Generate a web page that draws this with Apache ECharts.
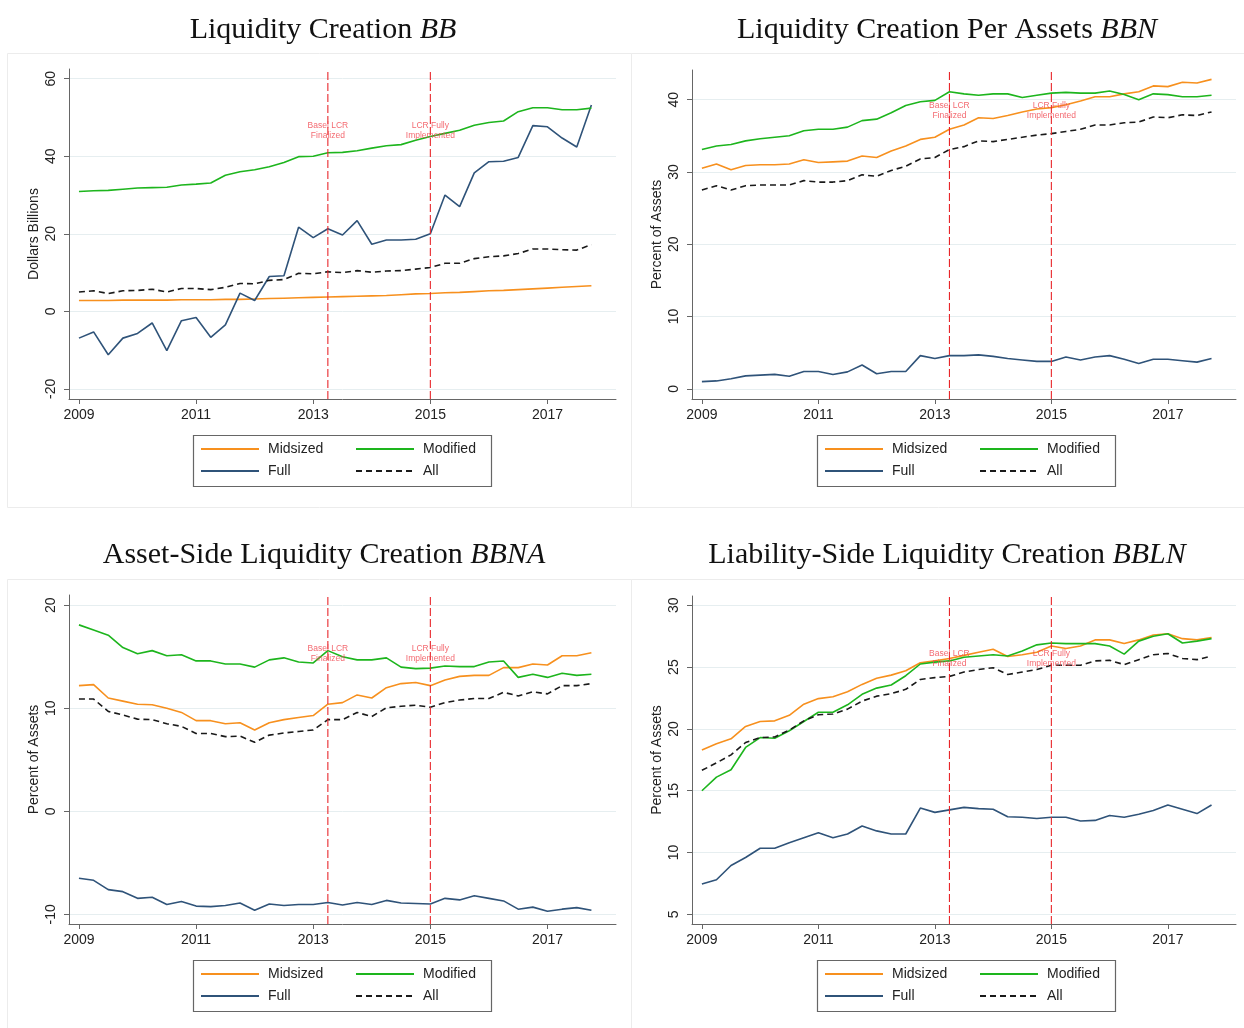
<!DOCTYPE html>
<html>
<head>
<meta charset="utf-8">
<script src="https://cdn.jsdelivr.net/npm/echarts@6/dist/echarts.min.js"></script>
<style>html,body{margin:0;padding:0;background:#fff}#c{width:1244px;height:1028px}</style>
</head>
<body>
<div id="c"></div>
<script>
// ---- data (quarterly, 2009Q1..2017Q4) ----
var quarters = [2009,2009.25,2009.5,2009.75,2010,2010.25,2010.5,2010.75,2011,2011.25,2011.5,2011.75,2012,2012.25,2012.5,2012.75,2013,2013.25,2013.5,2013.75,2014,2014.25,2014.5,2014.75,2015,2015.25,2015.5,2015.75,2016,2016.25,2016.5,2016.75,2017,2017.25,2017.5,2017.75];
var seriesNames = ['Midsized','Full','Modified','All'];
var xTicks = [2009,2011,2013,2015,2017];
var eventDates = [2013.25, 2015];
var eventLabels = ['Basel LCR\nFinalized', 'LCR Fully\nImplemented'];

// Panel 1: BB (Dollars Billions)
var bbMidsized = [2.8,2.8,2.8,2.9,2.9,2.9,2.9,3.0,3.0,3.0,3.1,3.1,3.2,3.3,3.4,3.5,3.6,3.7,3.8,3.9,4.0,4.1,4.3,4.5,4.6,4.8,4.9,5.1,5.3,5.4,5.6,5.8,6.0,6.2,6.4,6.6];
var bbModified = [30.9,31.1,31.2,31.5,31.8,31.9,32.0,32.6,32.8,33.1,35.1,36.0,36.5,37.3,38.4,39.9,40.0,40.9,41.0,41.4,42.1,42.7,43.0,44.1,45.1,45.9,46.7,48.0,48.7,49.1,51.5,52.5,52.5,52.0,52.0,52.4];
var bbFull = [-6.9,-5.3,-11.2,-6.9,-5.7,-3.0,-10.1,-2.4,-1.6,-6.7,-3.5,4.7,2.8,9.0,9.2,21.7,19.0,21.3,19.7,23.4,17.3,18.4,18.4,18.6,20.0,30.0,27.0,35.7,38.6,38.7,39.7,47.9,47.6,44.7,42.4,53.2];
var bbAll = [5.0,5.3,4.6,5.3,5.4,5.7,5.0,5.9,5.9,5.6,6.2,7.2,7.1,8.0,8.2,9.8,9.7,10.2,10.0,10.5,10.1,10.4,10.5,10.9,11.3,12.4,12.4,13.6,14.1,14.3,14.9,16.1,16.1,15.9,15.8,17.2];
var bbTicks = [-20,0,20,40,60];

// Panel 2: BBN (Percent of Assets)
var bbnMidsized = [30.5,31.1,30.3,30.9,31.0,31.0,31.1,31.7,31.3,31.4,31.5,32.2,32.0,32.9,33.6,34.5,34.8,35.9,36.5,37.5,37.4,37.8,38.3,38.7,38.9,39.3,39.8,40.4,40.4,40.8,41.1,41.9,41.8,42.4,42.3,42.8];
var bbnModified = [33.1,33.6,33.8,34.3,34.6,34.8,35.0,35.7,35.9,35.9,36.2,37.1,37.3,38.2,39.2,39.7,39.9,41.1,40.8,40.6,40.8,40.8,40.3,40.6,40.9,41.0,40.9,40.9,41.2,40.7,40.0,40.8,40.7,40.4,40.4,40.6];
var bbnFull = [1.0,1.1,1.4,1.8,1.9,2.0,1.75,2.4,2.4,2.0,2.35,3.3,2.1,2.4,2.4,4.6,4.2,4.6,4.6,4.7,4.5,4.2,4.0,3.8,3.8,4.4,4.0,4.4,4.6,4.1,3.5,4.1,4.1,3.9,3.7,4.2];
var bbnAll = [27.5,28.1,27.5,28.1,28.2,28.2,28.2,28.8,28.6,28.6,28.8,29.6,29.4,30.2,30.8,31.8,32.0,33.1,33.5,34.3,34.2,34.5,34.8,35.1,35.3,35.6,35.9,36.5,36.5,36.8,36.9,37.6,37.5,37.9,37.8,38.3];
var bbnTicks = [0,10,20,30,40];

// Panel 3: BBNA (Percent of Assets)
var bbnaMidsized = [12.2,12.3,11.0,10.7,10.4,10.35,10.0,9.6,8.8,8.8,8.5,8.6,7.9,8.6,8.9,9.1,9.3,10.4,10.55,11.3,11.0,12.0,12.4,12.5,12.2,12.75,13.1,13.2,13.2,13.95,13.95,14.3,14.2,15.1,15.1,15.4];
var bbnaModified = [18.1,17.6,17.1,15.9,15.3,15.6,15.1,15.2,14.6,14.6,14.3,14.3,14.0,14.7,14.9,14.5,14.4,15.6,15.0,14.7,14.7,14.9,14.0,13.85,13.9,14.1,14.05,14.05,14.5,14.6,13.0,13.3,13.0,13.4,13.2,13.3];
var bbnaFull = [-6.5,-6.7,-7.6,-7.8,-8.45,-8.35,-9.05,-8.75,-9.2,-9.25,-9.15,-8.9,-9.6,-9.0,-9.15,-9.05,-9.05,-8.85,-9.1,-8.85,-9.05,-8.65,-8.9,-8.95,-9.0,-8.45,-8.6,-8.2,-8.45,-8.7,-9.5,-9.3,-9.7,-9.5,-9.35,-9.6];
var bbnaAll = [10.9,10.9,9.7,9.35,8.95,8.9,8.5,8.25,7.55,7.55,7.25,7.3,6.7,7.4,7.6,7.75,7.9,8.9,8.9,9.6,9.2,10.05,10.2,10.3,10.1,10.55,10.8,10.95,10.95,11.55,11.2,11.6,11.4,12.2,12.2,12.4];
var bbnaTicks = [-10,0,10,20];

// Panel 4: BBLN (Percent of Assets)
var bblnMidsized = [18.3,18.8,19.2,20.2,20.6,20.65,21.1,22.0,22.45,22.6,23.0,23.6,24.1,24.35,24.7,25.35,25.5,25.7,25.95,26.2,26.45,25.85,26.0,26.2,26.7,26.5,26.7,27.2,27.2,26.9,27.2,27.6,27.7,27.3,27.2,27.4];
var bblnModified = [15.0,16.1,16.7,18.5,19.3,19.25,19.85,20.6,21.35,21.35,21.95,22.8,23.3,23.55,24.3,25.25,25.4,25.5,25.8,25.9,26.0,25.9,26.3,26.8,26.95,26.9,26.9,26.9,26.7,26.05,27.1,27.5,27.7,26.95,27.1,27.3];
var bblnFull = [7.45,7.8,8.95,9.6,10.35,10.35,10.8,11.2,11.6,11.2,11.5,12.15,11.75,11.5,11.5,13.6,13.25,13.45,13.65,13.55,13.5,12.9,12.85,12.75,12.85,12.85,12.55,12.6,13.0,12.85,13.1,13.4,13.85,13.5,13.15,13.85];
var bblnAll = [16.65,17.25,17.9,18.9,19.3,19.35,19.9,20.65,21.15,21.2,21.6,22.25,22.65,22.85,23.2,24.0,24.15,24.25,24.6,24.8,24.95,24.4,24.6,24.8,25.15,25.15,25.15,25.5,25.55,25.2,25.6,26.0,26.1,25.7,25.6,25.9];
var bblnTicks = [5,10,15,20,25,30];

// ---- panel layout / styling ----
var panels = [
  {title:'Liquidity Creation ', it:'BB', tx:318, ty:10, grid:{left:69,top:69,width:547,height:330}, ymin:-22.6, ymax:62.5, ticks:bbTicks, yname:'Dollars Billions', labelY:46.6,
   data:{Midsized:bbMidsized, Full:bbFull, Modified:bbModified, All:bbAll}, frame:[7.5,53.5,624,454], legend:[193,435]},
  {title:'Liquidity Creation Per Assets ', it:'BBN', tx:942, ty:10, grid:{left:692,top:70,width:544,height:329}, ymin:-1.4, ymax:44.1, ticks:bbnTicks, yname:'Percent of Assets', labelY:38.5,
   data:{Midsized:bbnMidsized, Full:bbnFull, Modified:bbnModified, All:bbnAll}, frame:[631.5,53.5,620,454], legend:[817,435]},
  {title:'Asset-Side Liquidity Creation ', it:'BBNA', tx:319, ty:535, grid:{left:69,top:595,width:547,height:329}, ymin:-10.94, ymax:21, ticks:bbnaTicks, yname:'Percent of Assets', labelY:15.3,
   data:{Midsized:bbnaMidsized, Full:bbnaFull, Modified:bbnaModified, All:bbnaAll}, frame:[7.5,579.5,624,460], legend:[193,960]},
  {title:'Liability-Side Liquidity Creation ', it:'BBLN', tx:942, ty:535, grid:{left:692,top:596,width:544,height:328}, ymin:4.22, ymax:30.75, ticks:bblnTicks, yname:'Percent of Assets', labelY:25.7,
   data:{Midsized:bblnMidsized, Full:bblnFull, Modified:bblnModified, All:bblnAll}, frame:[631.5,579.5,620,460], legend:[817,960]}
];
var styles = {
  Midsized:{color:'#f7901e', type:'solid'},
  Full:{color:'#2f5379', type:'solid'},
  Modified:{color:'#1db51d', type:'solid'},
  All:{color:'#1a1a1a', type:[6,4]}
};
var eventColor = '#e8262a';
var sans = 'Liberation Sans, Arial, Helvetica, sans-serif';

var option = {backgroundColor:'#fff', animation:false, title:[], grid:[], xAxis:[], yAxis:[], series:[], legend:[], graphic:[]};

panels.forEach(function(p, i){
  option.title.push({
    text:'{n|' + p.title + '}{i|' + p.it + '}',
    left:p.tx, top:p.ty, textAlign:'center',
    textStyle:{fontWeight:'normal', rich:{
      n:{fontFamily:'Liberation Serif, serif', fontWeight:'normal', fontSize:30, color:'#111'},
      i:{fontFamily:'Liberation Serif, serif', fontWeight:'normal', fontStyle:'italic', fontSize:30, color:'#111'}
    }}
  });
  option.grid.push(Object.assign({containLabel:false}, p.grid));
  option.xAxis.push({
    type:'value', gridIndex:i, min:2008.83, max:2018.17,
    axisLine:{show:true, onZero:false, lineStyle:{color:'#666', width:1}},
    axisTick:{show:true, length:5, customValues:xTicks, lineStyle:{color:'#666'}},
    axisLabel:{customValues:xTicks, margin:9, fontFamily:sans, fontSize:14, color:'#222',
      formatter:function(v){ return String(Math.round(v)); }},
    splitLine:{show:false}
  });
  option.yAxis.push({
    type:'value', gridIndex:i, min:p.ymin, max:p.ymax,
    name:p.yname, nameLocation:'middle', nameGap:28,
    nameTextStyle:{fontFamily:sans, fontSize:14, color:'#222'},
    axisLine:{show:true, onZero:false, lineStyle:{color:'#666', width:1}},
    axisTick:{show:true, length:5, customValues:p.ticks, lineStyle:{color:'#666'}},
    axisLabel:{customValues:p.ticks, rotate:90, margin:11, fontFamily:sans, fontSize:14, color:'#222'},
    splitLine:{show:true, lineStyle:{color:'#e6eef0', width:1}}
  });
  seriesNames.forEach(function(name){
    var vals = p.data[name];
    option.series.push({
      type:'line', name:name, xAxisIndex:i, yAxisIndex:i,
      data: quarters.map(function(q, k){ return [q, vals[k]]; }),
      symbol:'none', showSymbol:false, silent:true,
      lineStyle:{color:styles[name].color, width:1.6, type:styles[name].type},
      itemStyle:{color:styles[name].color},
      z: name === 'All' ? 3 : 2
    });
  });
  // event vertical lines: one line series per event date, spanning the axis range
  eventDates.forEach(function(d, k){
    option.series.push({
      type:'line', name:'event' + i + '_' + k, xAxisIndex:i, yAxisIndex:i, silent:true,
      data:[[d, p.ymin], [d, p.ymax]], symbol:'none', showSymbol:false,
      color:eventColor,
      lineStyle:{color:eventColor, width:1.1, type:[8,3], opacity:1},
      itemStyle:{color:eventColor},
      z:4
    });
  });
  // event labels
  option.series.push({
    type:'scatter', name:'events' + i, xAxisIndex:i, yAxisIndex:i, silent:true,
    color:eventColor, itemStyle:{color:eventColor}, symbolSize:0,
    data: eventDates.map(function(d, k){ return [d, p.labelY, eventLabels[k]]; }),
    label:{show:true, position:'inside', fontFamily:sans, fontSize:8.5, lineHeight:9.5, color:'#f0444c', align:'center', verticalAlign:'middle',
      formatter:function(prm){ return prm.value[2]; }},
    z:5
  });
  // legends: two columns
  var lx = p.legend[0], ly = p.legend[1];
  [[ 'Midsized','Full'], ['Modified','All']].forEach(function(col, c){
    option.legend.push({
      data:col, orient:'vertical', left: lx + 7 + c*155, top: ly + 7,
      itemWidth:58, itemHeight:14, itemGap:8, padding:0, selectedMode:false,
      itemStyle:{opacity:0, borderWidth:0},
      textStyle:{fontFamily:sans, fontSize:14, color:'#222', padding:[0,0,0,4]}
    });
  });
  option.graphic.push({type:'rect', silent:true, z:-10, shape:{x:p.frame[0], y:p.frame[1], width:p.frame[2], height:p.frame[3]}, style:{fill:'none', stroke:'#ececec', lineWidth:1}});
  option.graphic.push({type:'rect', silent:true, shape:{x:lx+0.5, y:ly+0.5, width:298, height:51}, style:{fill:'none', stroke:'#666', lineWidth:1.2}});
});

var chart = echarts.init(document.getElementById('c'), null, {renderer:'canvas'});
chart.setOption(option);
</script>
</body>
</html>
